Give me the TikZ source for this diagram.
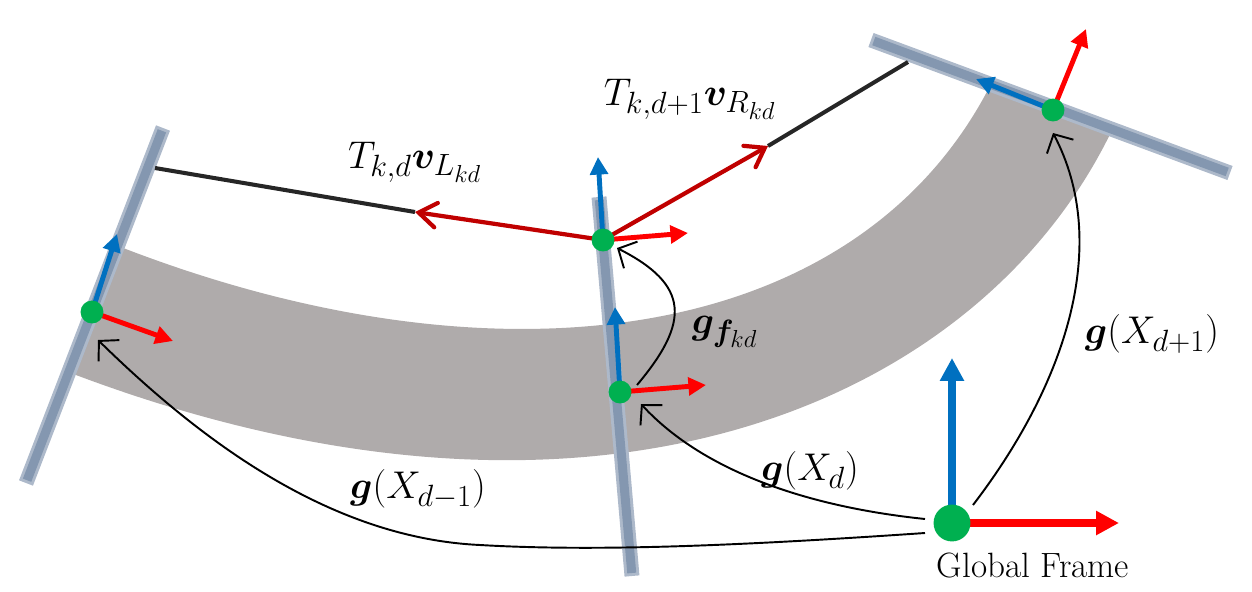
\RequirePackage{fix-cm}
\documentclass[tikz,border=0pt]{standalone}
\usepackage{amsmath,bm}
\usetikzlibrary{arrows.meta}
\DeclareMathSizes{22}{22}{17.5}{14}
\definecolor{bandgray}{HTML}{AFABAB}
\definecolor{bardark}{HTML}{8497B0}
\definecolor{barlight}{HTML}{ADB9CA}
\definecolor{dotgreen}{HTML}{00B050}
\definecolor{axblue}{HTML}{0070C0}
\definecolor{axred}{HTML}{FF0000}
\definecolor{vecred}{HTML}{C00000}
\definecolor{linkblack}{HTML}{262626}
\newcommand\pxu{0.5669pt}
\tikzset{
  barouter/.style={draw=barlight, line width=15*\pxu},
  barinner/.style={draw=bardark, line width=9*\pxu, shorten <=3*\pxu, shorten >=3*\pxu},
  dotnode/.style={circle, fill=dotgreen, inner sep=0pt, minimum size=23*\pxu},
  bigdot/.style={circle, fill=dotgreen, inner sep=0pt, minimum size=37*\pxu},
  axis/.style={line width=2.8pt, -{Triangle[length=10pt,width=10pt]}},
  bigaxis/.style={line width=4pt, -{Triangle[length=13pt,width=13pt]}},
  vecarrow/.style={draw=vecred, line width=2.4pt, line cap=round, -{Straight Barb[length=10pt,width=14pt,line cap=round]}},
  linkline/.style={draw=linkblack, line width=2.3pt},
  maparrow/.style={draw=black, line width=1.1pt, -{Straight Barb[length=8pt,width=17pt]}},
  lbl/.style={inner sep=0pt, anchor=base, font=\fontsize{22}{26}\selectfont},
}
\begin{document}
\begin{tikzpicture}[x=0.02cm,y=-0.02cm]
\useasboundingbox (0,0) rectangle (1252,592);
% band
\fill[bandgray] (118,246) .. controls (500,395) and (860,345) .. (992,82)
  -- (1114,126) .. controls (985,400) and (600,575) .. (68,372) -- cycle;
% bars
\coordinate (BLa) at (163,128); \coordinate (BLb) at (26,483);
\coordinate (BMa) at (599,197); \coordinate (BMb) at (632,576);
\coordinate (BRa) at (871,40);  \coordinate (BRb) at (1230,173);
\foreach \a/\b in {BLa/BLb, BMa/BMb, BRa/BRb}{
  \draw[barouter] (\a) -- (\b);
  \draw[barinner] (\a) -- (\b);
}
% frame origins
\coordinate (L) at (92,312);
\coordinate (MU) at (603,240);
\coordinate (ML) at (620,392);
\coordinate (R) at (1053,110);
\coordinate (G) at (952,523);
% link lines and vectors
\coordinate (Lend) at (155,168);
\coordinate (Ltip) at (415,212);
\coordinate (Rtip) at (768,146);
\coordinate (Rend) at (908,62);
\draw[linkline] (Lend) -- (Ltip);
\draw[linkline] (Rtip) -- (Rend);
\draw[vecarrow] (MU) -- (Ltip);
\draw[vecarrow] (MU) -- (Rtip);
% axes
\draw[axis, axblue] (L) -- (117,234);
\draw[axis, axred] (L) -- (173,341);
\draw[axis, axblue] (MU) -- (598,157);
\draw[axis, axred] (MU) -- (688,233);
\draw[axis, axblue] (ML) -- (615,307);
\draw[axis, axred] (ML) -- (706,385);
\draw[axis, axblue] (R) -- (976,79);
\draw[axis, axred] (R) -- (1086,29);
\draw[bigaxis, axblue] (G) -- (952,358);
\draw[bigaxis, axred] (G) -- (1119,523);
% dots
\node[dotnode] (Ldot) at (L) {};
\node[dotnode] (MUdot) at (MU) {};
\node[dotnode] (MLdot) at (ML) {};
\node[dotnode] (Rdot) at (R) {};
\node[bigdot] (Gdot) at (G) {};
% mapping arrows
\coordinate (Ga) at (925,533);
\coordinate (Gb) at (925,519);
\coordinate (Gc) at (973,505);
\coordinate (Lmap) at (98,340);
\coordinate (MLmap) at (641,404);
\coordinate (MLout) at (637,385);
\coordinate (MUmap) at (617,248);
\coordinate (Rmap) at (1053,133);
\coordinate (mid1) at (480,545);
\draw[maparrow] (Ga) .. controls (750,545) and (600,552) .. (mid1) .. controls (330,538) and (200,440) .. (Lmap);
\draw[maparrow] (Gb) .. controls (800,506) and (700,468) .. (MLmap);
\draw[maparrow] (MLout) .. controls (690,322) and (690,285) .. (MUmap);
\draw[maparrow] (Gc) .. controls (1065,385) and (1112,245) .. (Rmap);
% labels
\node[lbl] (tL) at (415,168) {$T_{k,d}\bm{v}_{L_{kd}}$};
\node[lbl] (tR) at (690,105) {$T_{k,d+1}\bm{v}_{R_{kd}}$};
\node[lbl] (tf) at (725,333) {$\bm{g}_{\bm{f}_{kd}}$};
\node[lbl] (tXp) at (1152,343) {$\bm{g}(X_{d+1})$};
\node[lbl] (tXm) at (418,498) {$\bm{g}(X_{d-1})$};
\node[lbl] (tX) at (810,480) {$\bm{g}(X_{d})$};
\node[inner sep=0pt, anchor=base, font=\fontsize{20}{24}\selectfont] (gf) at (1033,577) {Global Frame};
\end{tikzpicture}
\end{document}
